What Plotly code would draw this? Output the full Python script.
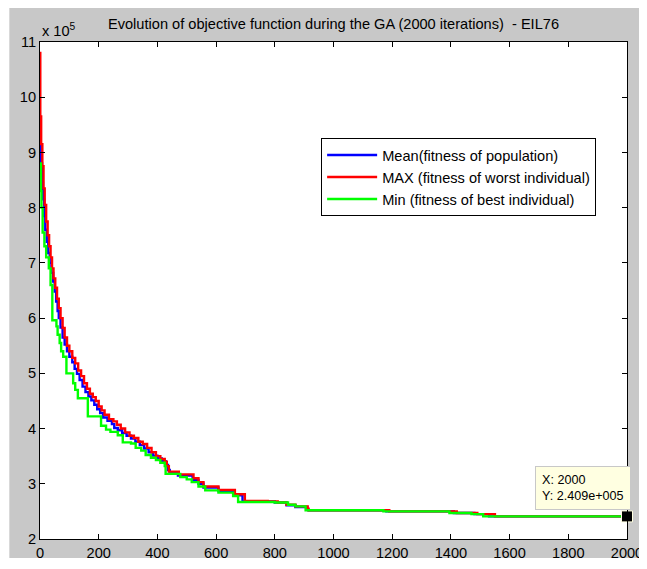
import plotly.graph_objects as go

# ---- data (fitness values in units of 1e5) ----
iter_max = [0, 1, 4, 8, 12, 16, 21, 26, 31, 36, 41, 46, 52, 58, 64, 70, 77, 84, 92, 100,
            110, 120, 130, 140, 150, 160, 170, 180, 190, 200, 210, 220, 235, 250, 262, 275,
            290, 305, 320, 335, 350, 365, 380, 395, 410, 425, 432, 439, 473, 523, 540, 557,
            608, 664, 698, 776, 810, 840, 870, 912, 915, 1190, 1420, 1490, 1550, 2000]
fit_max = [10.80, 9.65, 9.15, 8.75, 8.35, 8.05, 7.75, 7.50, 7.30, 7.10, 6.90, 6.72, 6.55, 6.35,
           6.18, 6.00, 5.82, 5.65, 5.50, 5.40, 5.28, 5.18, 5.05, 4.95, 4.82, 4.72, 4.63, 4.57,
           4.50, 4.40, 4.33, 4.25, 4.17, 4.13, 4.07, 4.00, 3.93, 3.87, 3.83, 3.76, 3.72, 3.65,
           3.57, 3.50, 3.45, 3.40, 3.32, 3.22, 3.17, 3.10, 3.03, 2.95, 2.89, 2.81, 2.69, 2.68,
           2.66, 2.62, 2.59, 2.55, 2.52, 2.50, 2.47, 2.45, 2.409, 2.409]

iter_mean = [0, 4, 7, 10, 14, 18, 23, 28, 33, 39, 45, 50, 55, 60, 64, 70, 77, 84, 92, 100,
             110, 118, 126, 135, 145, 155, 165, 175, 185, 195, 205, 215, 230, 245, 253, 265,
             280, 295, 310, 325, 340, 355, 370, 385, 400, 415, 428, 436, 442, 470, 520, 540,
             557, 608, 660, 690, 800, 840, 870, 910, 915, 1180, 1410, 1480, 1530, 2000]
fit_mean = [9.15, 8.80, 8.45, 8.15, 7.85, 7.60, 7.38, 7.18, 7.00, 6.82, 6.66, 6.48, 6.30, 6.13,
            6.00, 5.83, 5.65, 5.52, 5.40, 5.30, 5.20, 5.08, 4.99, 4.88, 4.76, 4.66, 4.58, 4.51,
            4.43, 4.35, 4.28, 4.20, 4.14, 4.08, 4.01, 3.97, 3.92, 3.87, 3.82, 3.76, 3.70, 3.64,
            3.57, 3.51, 3.46, 3.41, 3.34, 3.25, 3.19, 3.15, 3.07, 3.00, 2.93, 2.87, 2.79, 2.68,
            2.66, 2.61, 2.58, 2.53, 2.52, 2.50, 2.47, 2.45, 2.409, 2.409]

iter_min = [0, 3, 5, 9, 15, 21, 30, 36, 42, 56, 60, 67, 72, 79, 90, 113, 120, 129, 163, 208,
            225, 240, 265, 282, 310, 326, 345, 360, 378, 395, 410, 425, 428, 478, 500, 517,
            540, 563, 608, 658, 675, 800, 845, 870, 905, 1170, 1395, 1470, 1510, 2000]
fit_min = [8.80, 8.30, 8.00, 7.55, 7.30, 7.10, 6.90, 6.60, 5.96, 5.85, 5.70, 5.55, 5.40, 5.30,
           5.00, 4.82, 4.70, 4.55, 4.22, 4.05, 3.98, 3.94, 3.88, 3.75, 3.73, 3.65, 3.60, 3.52,
           3.47, 3.43, 3.38, 3.32, 3.18, 3.12, 3.08, 3.03, 2.95, 2.88, 2.84, 2.78, 2.67, 2.66,
           2.62, 2.59, 2.52, 2.50, 2.47, 2.45, 2.409, 2.409]

tip_x = [2000]
tip_y = [2.409]

x_ticks = [0, 200, 400, 600, 800, 1000, 1200, 1400, 1600, 1800, 2000]
y_ticks = [2, 3, 4, 5, 6, 7, 8, 9, 10, 11]

FONT = "Liberation Sans, Arial, sans-serif"
FS = 14.6

# the page body adds an 8px offset; layout numbers are in figure pixels
W, H = 647, 569
PL, PR, PT, PB = 32, 625, 34, 531  # plot area in figure pixels
PW, PH = PR - PL, PB - PT


def px(xp):
    return (xp - PL) / PW


def py(yp):
    return (PB - yp) / PH


fig = go.Figure()
fig.add_trace(go.Scatter(x=iter_mean, y=fit_mean, mode="lines", line_shape="hv",
                         line=dict(color="#0000ff", width=2.4),
                         name="Mean(fitness of population)"))
fig.add_trace(go.Scatter(x=iter_max, y=fit_max, mode="lines", line_shape="hv",
                         line=dict(color="#ff0000", width=2.4),
                         name="MAX (fitness of worst individual)"))
fig.add_trace(go.Scatter(x=iter_min, y=fit_min, mode="lines", line_shape="hv",
                         line=dict(color="#00ff00", width=2.4),
                         name="Min (fitness of best individual)"))
fig.add_trace(go.Scatter(x=tip_x, y=tip_y, mode="markers", showlegend=False, cliponaxis=False,
                         marker=dict(symbol="square", size=11, color="black",
                                     line=dict(color="#ffffe1", width=1))))

fig.update_layout(
    width=W, height=H,
    margin=dict(l=PL, r=W - PR, t=PT, b=H - PB),
    paper_bgcolor="white", plot_bgcolor="white",
    font=dict(family=FONT, size=FS, color="black"),
    title=dict(text="Evolution of objective function during the GA (2000 iterations)  - EIL76",
               x=0.5, xref="paper", xanchor="center", y=1 - 16 / H, yanchor="middle",
               font=dict(family=FONT, size=FS, color="black")),
    xaxis=dict(range=[0, 2000], tickvals=x_ticks, ticks="inside", ticklen=5,
               showline=True, linecolor="black", linewidth=1, mirror="ticks",
               showgrid=False, zeroline=False, tickcolor="black",
               tickfont=dict(family=FONT, size=FS, color="black")),
    yaxis=dict(range=[2, 11], tickvals=y_ticks, ticks="inside", ticklen=5,
               showline=True, linecolor="black", linewidth=1, mirror="ticks",
               showgrid=False, zeroline=False, tickcolor="black",
               tickfont=dict(family=FONT, size=FS, color="black")),
    legend=dict(x=px(316), y=py(130), xanchor="left", yanchor="top",
                bgcolor="white", bordercolor="black", borderwidth=1, tracegroupgap=0,
                itemwidth=50,
                font=dict(family=FONT, size=FS, color="black")),
    showlegend=True,
    shapes=[
        dict(type="rect", xref="paper", yref="paper", layer="below",
             x0=px(1), x1=px(W + 10), y0=py(550), y1=py(-10),
             fillcolor="#c8c8c8", line=dict(width=0)),
        dict(type="rect", xref="paper", yref="paper", layer="below",
             x0=0, x1=1, y0=0, y1=1, fillcolor="white", line=dict(width=0)),
    ],
    annotations=[
        dict(text="x 10<sup>5</sup>", xref="paper", yref="paper", x=0, y=1,
             xanchor="left", yanchor="bottom", yshift=1, showarrow=False,
             font=dict(family=FONT, size=FS, color="black")),
        dict(text="X: 2000<br>Y: 2.409e+005", xref="x", yref="y", x=1685, y=3.32,
             xanchor="left", yanchor="top", align="left", showarrow=False,
             bgcolor="#ffffe1", bordercolor="#c8c8c8", borderwidth=1, borderpad=6,
             font=dict(family=FONT, size=12.6, color="black")),
    ],
)

fig.write_html("out.html")
